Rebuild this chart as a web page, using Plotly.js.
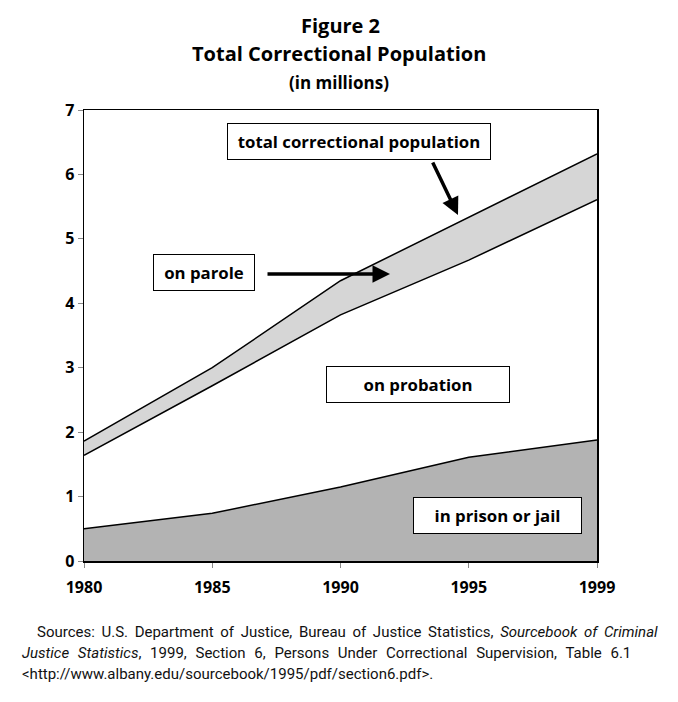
<!DOCTYPE html>
<html>
<head>
<meta charset="utf-8">
<script src="https://cdn.plot.ly/plotly-3.0.1.min.js"></script>
<style>html,body{margin:0;padding:0;background:#fff;}#chart{width:678px;height:702px;}</style>
</head>
<body>
<div id="chart"></div>
<script>
var years = ['1980', '1985', '1990', '1995', '1999'];
var prisonJail = [0.50, 0.74, 1.15, 1.61, 1.88];
var probation = [1.14, 1.98, 2.67, 3.06, 3.73];
var parole = [0.22, 0.28, 0.53, 0.67, 0.71];
var yTicks = [0, 1, 2, 3, 4, 5, 6, 7];

var lineStyle = {color: '#000', width: 1.5, shape: 'linear'};
var traces = [
  {x: years, y: prisonJail, name: 'in prison or jail', stackgroup: 'a', mode: 'lines', line: lineStyle, fillcolor: '#b3b3b3', hoverinfo: 'skip'},
  {x: years, y: probation, name: 'on probation', stackgroup: 'a', mode: 'lines', line: lineStyle, fillcolor: '#ffffff', hoverinfo: 'skip'},
  {x: years, y: parole, name: 'on parole', stackgroup: 'a', mode: 'lines', line: lineStyle, fillcolor: '#d6d6d6', hoverinfo: 'skip'}
];

var bold = {family: 'Open Sans, DejaVu Sans, sans-serif', size: 16, color: '#000', weight: 'bold'};
var boxFont = {family: 'Open Sans, DejaVu Sans, sans-serif', size: 16.8, color: '#000'};
function py(p) { return (561 - p) / 451; }
function px(p) { return (p - 84) / 513; }
function boxLabel(text, cx, cy, w) {
  return {text: '<b>' + text + '</b>', xref: 'paper', yref: 'paper', x: px(cx), y: py(cy),
    xanchor: 'center', yanchor: 'middle', showarrow: false, font: boxFont,
    bgcolor: '#fff', bordercolor: '#000', borderwidth: 1, borderpad: 6, width: w};
}
var srcFont = {family: 'Roboto, Liberation Sans, sans-serif', size: 15, color: '#111'};
var titleFont = {family: 'Open Sans, sans-serif', size: 20, color: '#000'};
var annotations = [
  {text: '<b>Figure 2</b>', xref: 'paper', yref: 'paper', x: px(340), y: py(25), xanchor: 'center', yanchor: 'middle', showarrow: false, font: titleFont},
  {text: '<b>Total Correctional Population</b>', xref: 'paper', yref: 'paper', x: px(339), y: py(54), xanchor: 'center', yanchor: 'middle', showarrow: false, font: titleFont},
  {text: '<b>(in millions)</b>', xref: 'paper', yref: 'paper', x: px(339), y: py(82), xanchor: 'center', yanchor: 'middle', showarrow: false, font: {family: 'Open Sans, sans-serif', size: 17, color: '#000'}},
  boxLabel('total correctional population', 359, 141, 250),
  boxLabel('on parole', 204, 272, 88),
  boxLabel('on probation', 418, 384, 170),
  boxLabel('in prison or jail', 497, 515, 155),
  {text: '', xref: 'paper', yref: 'paper', x: px(458), y: py(215), axref: 'pixel', ayref: 'pixel', ax: -26, ay: -54, showarrow: true, arrowhead: 2, arrowsize: 1, arrowwidth: 3.5, arrowcolor: '#000'},
  {text: '', xref: 'paper', yref: 'paper', x: px(390), y: py(274), axref: 'pixel', ayref: 'pixel', ax: -124, ay: 0, showarrow: true, arrowhead: 2, arrowsize: 1, arrowwidth: 3.5, arrowcolor: '#000'},
  {text: '<span style="word-spacing:2.9px">Sources: U.S. Department of Justice, Bureau of Justice Statistics, <i>Sourcebook of Criminal</i></span>', xref: 'paper', yref: 'paper', x: px(35), y: py(632), xanchor: 'left', yanchor: 'middle', showarrow: false, font: srcFont},
  {text: '<span style="word-spacing:5px"><i>Justice Statistics</i>, 1999, Section 6, Persons Under Correctional Supervision, Table 6.1</span>', xref: 'paper', yref: 'paper', x: px(20), y: py(653), xanchor: 'left', yanchor: 'middle', showarrow: false, font: srcFont},
  {text: '&lt;http://www.albany.edu/sourcebook/1995/pdf/section6.pdf&gt;.', xref: 'paper', yref: 'paper', x: px(20), y: py(674), xanchor: 'left', yanchor: 'middle', showarrow: false, font: srcFont}
];

var layout = {
  width: 678, height: 702,
  margin: {l: 84, r: 81, t: 110, b: 141},
  paper_bgcolor: '#fff', plot_bgcolor: '#fff',
  showlegend: false,
  xaxis: {type: 'category', range: [0, 4], showgrid: false, zeroline: false,
    showline: true, mirror: true, linecolor: '#000', linewidth: 1.5,
    ticks: 'outside', ticklen: 5, tickcolor: '#888', tickfont: bold, ticklabelstandoff: 6},
  yaxis: {range: [0, 7], tickvals: yTicks, showgrid: false, zeroline: false,
    showline: true, mirror: true, linecolor: '#000', linewidth: 1.5,
    ticks: 'outside', ticklen: 5, tickcolor: '#888', tickfont: bold},
  annotations: annotations
};
Plotly.newPlot('chart', traces, layout, {staticPlot: true, displayModeBar: false});
</script>
</body>
</html>
